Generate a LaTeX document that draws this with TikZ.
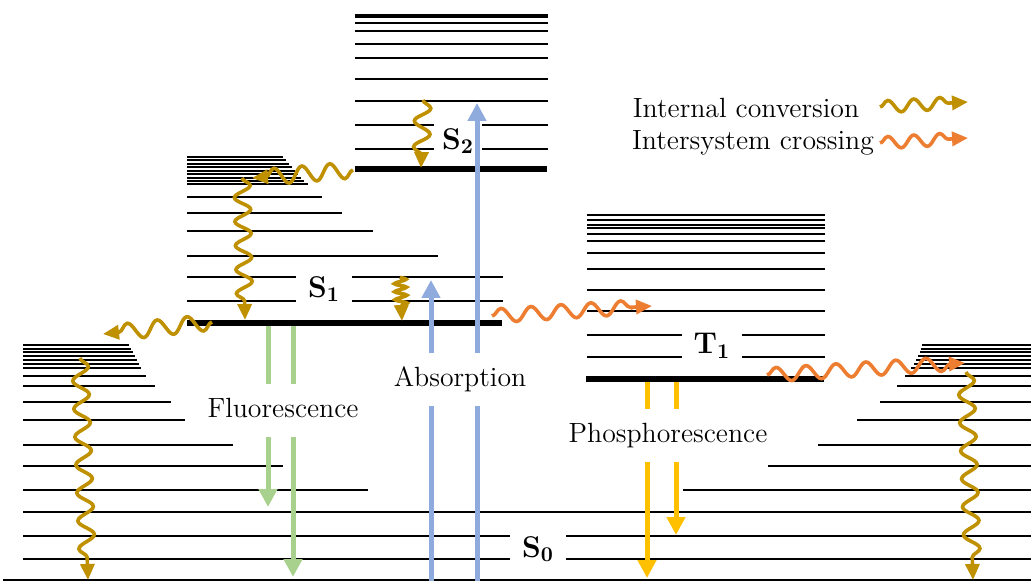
\documentclass[tikz,border=0pt]{standalone}
\usepackage{tikz}
\usetikzlibrary{arrows.meta,decorations.pathmorphing}
\definecolor{icgold}{RGB}{191,144,0}
\definecolor{iscorange}{RGB}{237,125,49}
\definecolor{absblue}{RGB}{143,170,220}
\definecolor{flgreen}{RGB}{169,209,142}
\definecolor{phyellow}{RGB}{255,192,0}

\begin{document}
\begin{tikzpicture}[x=0.5pt, y=-0.5pt,
    vibline/.style={line width=1pt},
    groundline/.style={line width=3pt},
    statelbl/.style={fill=white, font=\bfseries\fontsize{15}{17}\selectfont, inner xsep=6pt, inner ysep=5pt},
    proclbl/.style={fill=white, font=\fontsize{13.9}{16}\selectfont, text height=9.5pt, text depth=3pt, inner xsep=2pt, inner ysep=7pt},
    legendlbl/.style={font=\fontsize{13.9}{16}\selectfont, inner sep=0pt},
    wavy/.style={line width=1.8pt, decorate, decoration={snake, amplitude=4pt, segment length=12pt, post length=6pt}, -{Triangle[length=8pt,width=7pt]}},
    icarrow/.style={wavy, draw=icgold},
    iscarrow/.style={wavy, draw=iscorange, decoration={amplitude=3.5pt, segment length=15pt}},
    radarrow/.style={line width=2.5pt, -{Triangle[length=9pt,width=9pt]}}]
\useasboundingbox (0,0) rectangle (1031,581);

% S0 ground state well
\foreach \y/\l/\r in {345.5/129/922, 349/131/921, 352.5/133/920, 356/135/918, 360/137/916,
    364/139/914, 368.5/141/911, 375.7/146/905, 386/155/897, 401.7/171/880, 420.3/185/857,
    445/233/818, 466/283/768, 490.3/368/683} {
  \draw[vibline] (23,\y) -- (\l,\y);
  \draw[vibline] (\r,\y) -- (1031,\y);
}
\foreach \y in {511.7, 535.7, 559.3}
  \draw[vibline] (23,\y) -- (1031,\y);
\draw[vibline] (3,579.5) -- (1031,579.5);

% S1 well
\foreach \y/\r in {156.7/283, 160.5/286, 164/289, 167.5/292, 171/295, 174.5/298, 178/301,
    181/304, 184/308, 196.7/322, 212.7/342, 231/373, 255.7/438, 276.7/503, 300.7/503}
  \draw[vibline] (187,\y) -- (\r,\y);
\draw[groundline] (187,323.3) -- (502,323.3);

% S2 well
\foreach \y in {15, 17.3, 23.3, 31, 44.3, 58.3, 79.3, 100.7, 125, 148.7}
  \draw[vibline] (355,\y) -- (548,\y);
\draw[groundline] (355,169) -- (547,169);

% T1 well
\foreach \y in {214.7, 220.3, 225, 228, 234, 241.5, 252.7, 268.7, 290, 311, 335.3, 356.7}
  \draw[vibline] (587,\y) -- (825,\y);
\draw[groundline] (586,379.3) -- (824,379.3);

% state labels
\node[statelbl] (s0) at (538,549) {S\textsubscript{0}};
\node[statelbl] (s1) at (324,289) {S\textsubscript{1}};
\node[statelbl, inner xsep=4pt] (s2) at (458,141) {S\textsubscript{2}};
\node[statelbl] (t1) at (712,346) {T\textsubscript{1}};

% radiative transitions
\coordinate (ab1s) at (431,581);  \coordinate (ab1e) at (431,280);
\coordinate (ab2s) at (477,581);  \coordinate (ab2e) at (477,103);
\coordinate (fl1s) at (268,326);  \coordinate (fl1e) at (268,507);
\coordinate (fl2s) at (293,326);  \coordinate (fl2e) at (293,577);
\coordinate (ph1s) at (647,382);  \coordinate (ph1e) at (647,578);
\coordinate (ph2s) at (676,382);  \coordinate (ph2e) at (676,535);
\draw[radarrow, absblue] (ab1s) -- (ab1e);
\draw[radarrow, absblue] (ab2s) -- (ab2e);
\draw[radarrow, flgreen] (fl1s) -- (fl1e);
\draw[radarrow, flgreen] (fl2s) -- (fl2e);
\draw[radarrow, phyellow] (ph1s) -- (ph1e);
\draw[radarrow, phyellow] (ph2s) -- (ph2e);

\node[proclbl] (abs) at (460,380) {Absorption};
\node[proclbl] (fluo) at (283,411) {Fluorescence};
\node[proclbl] (phos) at (668,436) {Phosphorescence};

% non-radiative transitions
\coordinate (ic1s) at (423,100);  \coordinate (ic1e) at (421,168);
\coordinate (ic2s) at (353,170);  \coordinate (ic2e) at (252,178);
\coordinate (ic3s) at (242,178);  \coordinate (ic3e) at (245,320);
\coordinate (ic4s) at (400,277);  \coordinate (ic4e) at (402,321);
\coordinate (ic5s) at (212,322);  \coordinate (ic5e) at (103,334);
\coordinate (ic6s) at (80,358);   \coordinate (ic6e) at (88,580);
\coordinate (ic7s) at (966,372);  \coordinate (ic7e) at (973,580);
\coordinate (isc1s) at (492,316); \coordinate (isc1e) at (652,306);
\coordinate (isc2s) at (767,375); \coordinate (isc2e) at (965,363);
\draw[icarrow, decoration={segment length=13pt}] (ic1s) -- (ic1e);
\draw[icarrow, decoration={segment length=14pt}] (ic2s) -- (ic2e);
\draw[icarrow] (ic3s) -- (ic3e);
\draw[icarrow, decoration={segment length=4pt, amplitude=3pt}] (ic4s) -- (ic4e);
\draw[icarrow, decoration={segment length=15pt}] (ic5s) -- (ic5e);
\draw[icarrow, decoration={segment length=14pt}] (ic6s) -- (ic6e);
\draw[icarrow, decoration={segment length=14pt}] (ic7s) -- (ic7e);
\draw[iscarrow] (isc1s) -- (isc1e);
\draw[iscarrow] (isc2s) -- (isc2e);

% legend
\node[legendlbl] (icleg) at (746,108) {Internal conversion};
\node[legendlbl] (iscleg) at (753,143) {Intersystem crossing};
\coordinate (iclegs) at (880,107);  \coordinate (iclege) at (968,102);
\coordinate (isclegs) at (880,143); \coordinate (isclege) at (968,138);
\draw[icarrow, decoration={segment length=13pt, amplitude=3pt}] (iclegs) -- (iclege);
\draw[iscarrow, decoration={segment length=13pt, amplitude=3pt}] (isclegs) -- (isclege);
\end{tikzpicture}
\end{document}
